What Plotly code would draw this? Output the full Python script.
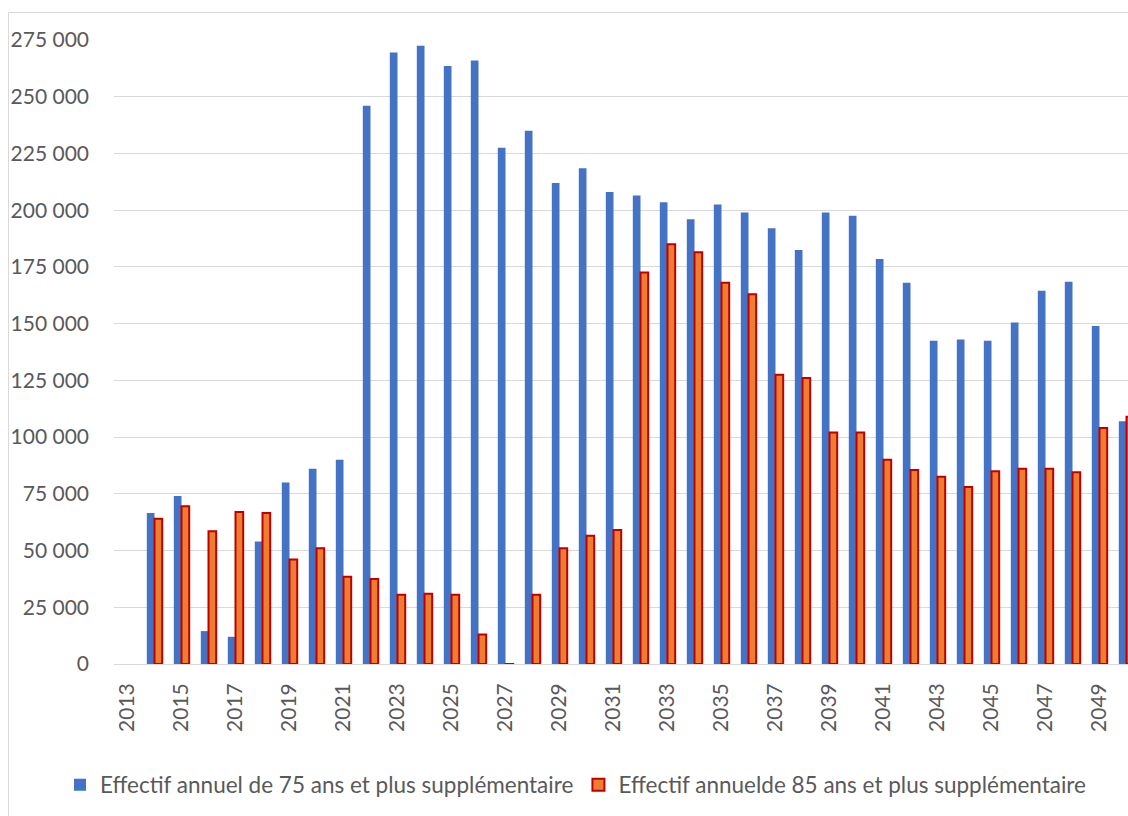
import plotly.graph_objects as go

years = list(range(2013, 2051))

effectif_75 = [
    None, 66500, 74000, 14500, 12000, 54000, 80000, 86000, 90000, 246000,
    269500, 272500, 263500, 266000, 227500, 235000, 212000, 218500, 208000, 206500,
    203500, 196000, 202500, 199000, 192000, 182500, 199000, 197500, 178500, 168000,
    142500, 143000, 142500, 150500, 164500, 168500, 149000, 107000,
]

effectif_85 = [
    None, 64000, 69500, 58500, 67000, 66500, 46000, 51000, 38500, 37500,
    30500, 31000, 30500, 13000, -1500, 30500, 51000, 56500, 59000, 172500,
    185000, 181500, 168000, 163000, 127500, 126000, 102000, 102000, 90000, 85500,
    82500, 78000, 85000, 86000, 86000, 84500, 104000, 109000,
]

name_75 = "Effectif annuel de 75 ans et plus supplémentaire"
name_85 = "Effectif annuelde 85 ans et plus supplémentaire"

y_ticks = list(range(0, 275001, 25000))
x_ticks = list(range(2013, 2050, 2))

FONT = "Lato"
TXT = "#595959"
GRID = "#D9D9D9"

fig = go.Figure()
fig.add_trace(go.Bar(
    x=years, y=effectif_75, name=name_75,
    marker=dict(color="#4472C4", line=dict(color="#4472C4", width=0)),
))
fig.add_trace(go.Bar(
    x=years, y=effectif_85, name=name_85,
    marker=dict(color="#ED7D31", line=dict(color="#C00000", width=2)),
))

L, T, B = 114, 40, 664
W, H = 1128, 816
plot_w = W - L
plot_h = B - T
px_per_year = 27.0
x_end = 2012.5 + plot_w / px_per_year


def px_to_paper_x(p):
    return (p - L) / plot_w


def px_to_paper_y(p):
    return (B - p) / plot_h


fig.update_layout(
    width=W, height=H,
    margin=dict(l=L, r=0, t=T, b=H - B, pad=0),
    paper_bgcolor="white", plot_bgcolor="white",
    barmode="group", bargap=0.43, bargroupgap=0.0,
    font=dict(family=FONT, size=21, color=TXT),
    showlegend=True,
    legend=dict(
        orientation="h",
        x=px_to_paper_x(60), xanchor="left",
        y=px_to_paper_y(785), yanchor="middle",
        font=dict(family=FONT, size=22.5, color=TXT),
        bgcolor="rgba(0,0,0,0)", borderwidth=0,
        itemwidth=30, tracegroupgap=0,
    ),
    xaxis=dict(
        range=[2012.5, x_end],
        tickmode="array", tickvals=x_ticks, ticktext=[str(v) for v in x_ticks],
        tickangle=-90, showgrid=False, showline=False, ticks="",
        tickfont=dict(family=FONT, size=21, color=TXT),
        ticklabelstandoff=14,
        zeroline=False,
    ),
    yaxis=dict(
        range=[0, 275000],
        tickmode="array", tickvals=y_ticks,
        ticktext=[f"{v:,}".replace(",", " ") for v in y_ticks],
        showgrid=True, gridcolor=GRID, gridwidth=1,
        zeroline=True, zerolinecolor=GRID, zerolinewidth=1,
        showline=False, ticks="",
        tickfont=dict(family=FONT, size=21, color=TXT),
        ticklabelstandoff=24,
    ),
    shapes=[dict(
        type="rect", xref="paper", yref="paper",
        x0=px_to_paper_x(8.5), x1=px_to_paper_x(1200),
        y0=px_to_paper_y(900), y1=px_to_paper_y(12.5),
        line=dict(color=GRID, width=1), fillcolor="rgba(0,0,0,0)", layer="below",
    )],
)

fig.write_html(
    "out.html",
    config={"displayModeBar": False},
    post_script="document.body.style.margin='0';document.body.style.overflow='hidden';",
)
